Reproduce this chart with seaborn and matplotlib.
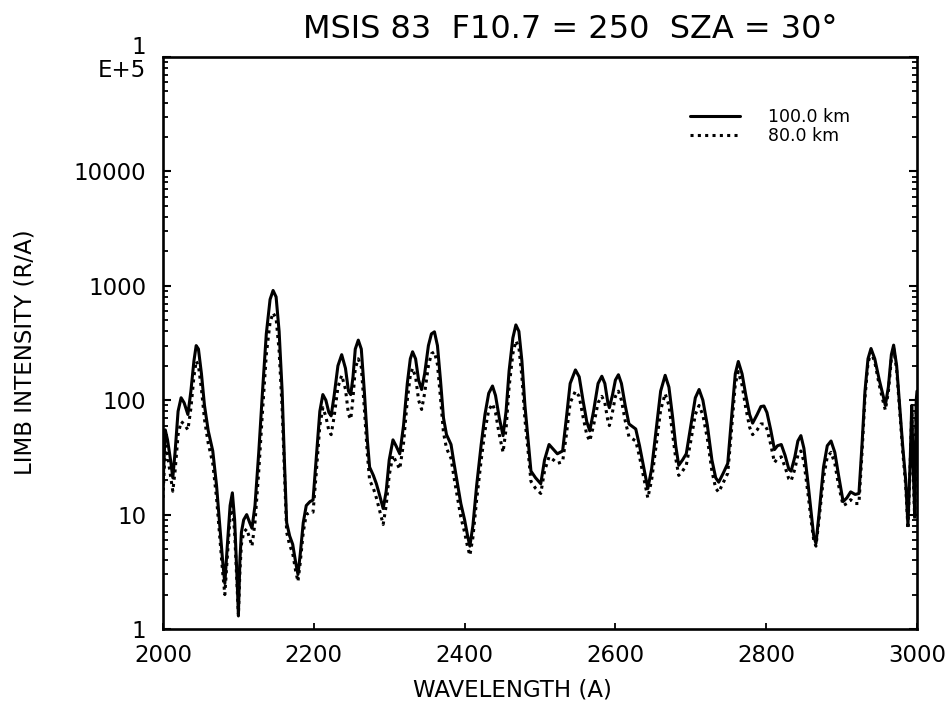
import matplotlib
matplotlib.use("Agg")
import matplotlib.pyplot as plt
import matplotlib.ticker as mticker
import numpy as np
import pandas as pd
import seaborn as sns

# ---- data ----
wavelength = [
    2000, 2003, 2006, 2010, 2013, 2016, 2020, 2024, 2028, 2033, 2037, 2041, 2044, 2047, 2051, 2055,
    2060, 2066, 2071, 2076, 2079, 2082, 2085, 2089, 2092, 2095, 2098, 2100, 2102, 2104, 2107, 2111,
    2115, 2118, 2122, 2127, 2132, 2137, 2142, 2146, 2150, 2154, 2158, 2161, 2164, 2168, 2172, 2176,
    2179, 2182, 2186, 2190, 2195, 2199, 2203, 2208, 2212, 2216, 2220, 2223, 2227, 2232, 2237, 2242,
    2246, 2249, 2252, 2255, 2259, 2263, 2267, 2271, 2274, 2279, 2283, 2287, 2292, 2296, 2300, 2305,
    2309, 2314, 2319, 2324, 2328, 2331, 2335, 2339, 2343, 2347, 2352, 2356, 2360, 2364, 2368, 2372,
    2376, 2382, 2386, 2391, 2395, 2400, 2404, 2407, 2411, 2416, 2422, 2427, 2432, 2437, 2441, 2446,
    2451, 2455, 2459, 2464, 2468, 2472, 2476, 2480, 2484, 2488, 2494, 2501, 2506, 2512, 2518, 2523,
    2530, 2535, 2540, 2547, 2552, 2557, 2562, 2566, 2571, 2577, 2582, 2586, 2590, 2592, 2596, 2600,
    2604, 2608, 2613, 2618, 2627, 2632, 2637, 2643, 2648, 2654, 2660, 2666, 2671, 2676, 2680, 2684,
    2689, 2694, 2700, 2706, 2711, 2716, 2722, 2728, 2733, 2737, 2743, 2749, 2754, 2759, 2763, 2768,
    2773, 2778, 2782, 2788, 2793, 2797, 2801, 2806, 2811, 2815, 2820, 2825, 2830, 2833, 2838, 2842,
    2846, 2850, 2855, 2860, 2863, 2866, 2870, 2876, 2881, 2886, 2891, 2896, 2902, 2907, 2912, 2918,
    2923, 2927, 2931, 2935, 2939, 2944, 2950, 2955, 2958, 2962, 2966, 2969, 2973, 2977, 2981, 2985,
    2988, 2991, 2993, 2995, 2997, 2999, 3000,
]

intensity_100km = [
    18, 55, 45, 30, 21, 35, 80, 105, 95, 75, 120, 220, 300, 280, 170, 90,
    54, 36, 18, 7, 4, 2.5, 5, 12, 15.5, 9, 3, 1.35, 4, 7, 9, 10,
    8.5, 7.6, 12, 35, 120, 380, 760, 910, 800, 400, 120, 30, 8.5, 6.5, 5.5, 3.8,
    3.0, 4.5, 8.5, 12, 13, 13.4, 30, 80, 112, 100, 78, 73, 110, 200, 250, 190,
    120, 112, 160, 280, 335, 280, 120, 45, 26, 22, 18.6, 15, 11.3, 16, 30, 45,
    40, 34, 60, 140, 230, 265, 230, 150, 124, 170, 300, 380, 396, 300, 150, 70,
    50, 41, 28, 18, 12.5, 9, 6.5, 5.3, 8, 18, 41, 75, 115, 133, 110, 70,
    49, 80, 180, 350, 455, 400, 220, 90, 47, 24, 21, 18.6, 30, 41, 37, 34,
    36, 70, 140, 184, 160, 100, 65, 54, 80, 140, 162, 140, 95, 86, 110, 150,
    167, 140, 90, 62, 56, 40, 27, 16.9, 25, 55, 120, 165, 130, 70, 40, 27,
    30, 34, 60, 105, 124, 100, 60, 30, 21, 19.2, 23, 28, 70, 170, 218, 170,
    110, 75, 63, 75, 88, 89, 78, 55, 37, 40, 41, 33, 25, 24, 32, 44,
    49, 38, 20, 10, 6.5, 5.6, 10, 26, 40, 44, 35, 22, 13, 14, 15.8, 15,
    15.3, 40, 120, 230, 283, 230, 150, 110, 90, 130, 250, 303, 200, 90, 40, 20,
    8, 30, 90, 25, 10, 100, 120,
]

intensity_80km = [
    14, 40, 33, 22, 16, 24, 50, 65, 62, 55, 85, 160, 220, 200, 125, 68,
    42, 28, 14, 5.5, 3.2, 2.0, 4, 9.5, 12, 7, 2.5, 1.3, 3.2, 5.5, 7, 7.5,
    6.2, 5.3, 8.5, 24, 80, 250, 480, 580, 520, 270, 85, 24, 7, 5.4, 4.6, 3.2,
    2.6, 3.8, 7, 10, 10.5, 10.5, 22, 60, 86, 72, 54, 50, 72, 130, 165, 125,
    75, 68, 105, 190, 230, 195, 85, 34, 20, 17, 14, 11, 8.2, 12, 22, 33,
    29, 25, 42, 100, 165, 190, 160, 100, 83, 115, 200, 255, 265, 205, 105, 52,
    38, 31, 21, 13.5, 9.5, 7, 5.2, 4.4, 6.3, 13.5, 30, 54, 82, 93, 78, 50,
    35, 56, 130, 255, 330, 290, 160, 68, 37, 19.5, 17, 15.3, 24, 32, 30, 28,
    29, 50, 95, 120, 108, 72, 50, 44, 60, 95, 108, 95, 66, 60, 78, 108,
    120, 100, 66, 48, 44, 32, 22, 14, 20, 40, 82, 114, 90, 50, 31, 22,
    24, 27, 44, 75, 90, 74, 46, 24, 17, 15.7, 19, 23, 55, 138, 178, 135,
    85, 58, 50, 55, 62, 62, 56, 41, 28.5, 31, 32, 26, 20.5, 19.7, 25, 33,
    36, 29, 16, 8.5, 6, 5.3, 9, 21, 32, 35, 28, 18, 12, 12.5, 13.5, 12.5,
    12.5, 34, 105, 210, 265, 215, 135, 98, 82, 118, 230, 285, 185, 82, 36, 18,
    7.5, 28, 80, 22, 9, 90, 105,
]

series_labels = ["100.0 km", "80.0 km"]
y_tick_values = [1, 10, 100, 1000, 10000, 100000]
y_tick_labels = ["1", "10", "100", "1000", "10000", "1\nE+5"]
x_tick_values = [2000, 2200, 2400, 2600, 2800, 3000]
title_text = "MSIS 83  F10.7 = 250  SZA = 30\u00b0"

df = pd.concat([
    pd.DataFrame({"wavelength": wavelength, "intensity": intensity_100km, "alt": series_labels[0]}),
    pd.DataFrame({"wavelength": wavelength, "intensity": intensity_80km, "alt": series_labels[1]}),
], ignore_index=True)

# ---- style ----
sns.set_style("ticks")
plt.rcParams['font.family'] = ['DejaVu Sans']
plt.rcParams['text.color'] = 'black'
plt.rcParams['xtick.color'] = 'black'
plt.rcParams['ytick.color'] = 'black'
plt.rcParams['xtick.labelcolor'] = 'black'
plt.rcParams['ytick.labelcolor'] = 'black'

fig = plt.figure(figsize=(9.51, 7.12), dpi=100)
ax = fig.add_axes([163 / 951, 83 / 712, 754 / 951, 572 / 712])

sns.lineplot(
    data=df, x="wavelength", y="intensity", style="alt",
    style_order=series_labels,
    dashes={series_labels[0]: "", series_labels[1]: (1, 1.4)},
    color="black", linewidth=2.2, estimator=None, sort=False, ax=ax,
)

ax.set_yscale("log")
ax.set_xlim(2000, 3000)
ax.set_ylim(1, 1e5)
ax.set_xlabel("")
ax.set_ylabel("")

ax.yaxis.set_major_locator(mticker.FixedLocator(y_tick_values))
ax.yaxis.set_major_formatter(mticker.FixedFormatter(y_tick_labels))
ax.yaxis.set_minor_locator(mticker.LogLocator(base=10, subs=np.arange(2, 10)))
ax.yaxis.set_minor_formatter(mticker.NullFormatter())
ax.xaxis.set_major_locator(mticker.FixedLocator(x_tick_values))
ax.xaxis.set_minor_locator(mticker.NullLocator())

for s in ax.spines.values():
    s.set_linewidth(1.9)
    s.set_color("black")

ax.tick_params(axis="y", which="major", direction="in", length=6, width=1.5,
               left=True, right=True, labelsize=16.5, pad=12, colors="black")
ax.tick_params(axis="y", which="minor", direction="in", length=3.5, width=1.3,
               left=True, right=True, colors="black")
ax.tick_params(axis="x", which="major", direction="in", length=4, width=1.3,
               bottom=True, top=False, labelsize=16.5, pad=11, colors="black")
for lbl in ax.get_yticklabels():
    lbl.set_linespacing(0.95)

# legend
handles, labels = ax.get_legend_handles_labels()
hmap = dict(zip(labels, handles))
leg = ax.legend([hmap[l] for l in series_labels], series_labels,
                loc="upper left", bbox_to_anchor=(690 / 951, 1 - 108 / 712),
                bbox_transform=fig.transFigure, frameon=False,
                fontsize=12.5, handlelength=2.9, handletextpad=1.6,
                labelspacing=0.05, borderpad=0, borderaxespad=0)
for t in leg.get_texts():
    t.set_color("black")

fig.text(570 / 951, 1 - 30 / 712, title_text, ha="center", va="center",
         fontsize=23, color="black")
fig.text(512 / 951, 1 - 690 / 712, "WAVELENGTH (A)", ha="center", va="center",
         fontsize=16.5, color="black")
fig.text(25 / 951, 1 - 352 / 712, "LIMB INTENSITY (R/A)", ha="center", va="center",
         rotation=90, fontsize=16.5, color="black")

fig.savefig("out.png", dpi=100)
